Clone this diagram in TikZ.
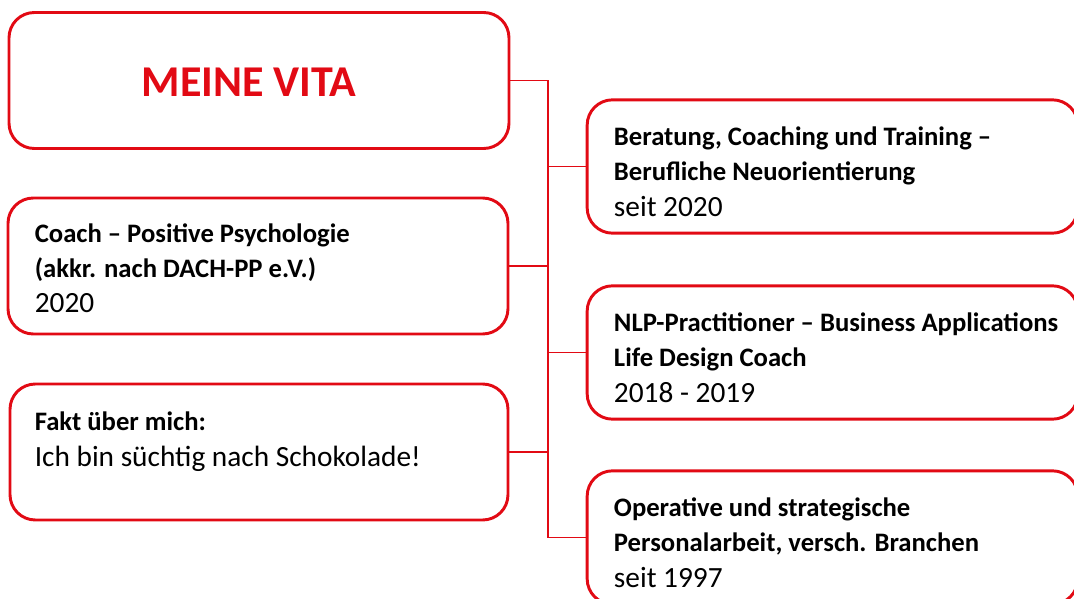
\documentclass[tikz,border=0pt]{standalone}
\usepackage{fontspec}
\setmainfont{Carlito}
\usetikzlibrary{positioning}

\definecolor{vitared}{RGB}{226,10,20}
\newcommand\boldline[1]{{\fontsize{20}{26.5}\selectfont\bfseries #1}}

\tikzset{
  box/.style={draw=vitared, line width=2.2pt, rounded corners=19pt, fill=white},
  leftbox/.style={box, minimum width=375pt, minimum height=102pt},
  rightbox/.style={box, minimum width=368pt, minimum height=100pt},
  txt/.style={align=left, inner sep=0pt, font=\fontsize{22}{26.5}\selectfont},
  headline/.style={text=vitared, inner sep=0pt, font=\fontsize{33}{38}\selectfont\bfseries},
  link/.style={draw=vitared, line width=1.1pt}
}

\begin{document}
\begin{tikzpicture}[x=0.75pt,y=-0.75pt]
\useasboundingbox (0,0) rectangle (1074,599);
\clip (0,0) rectangle (1074,599);

% spine of the connectors
\coordinate (spine) at (548,0);

% left column
\node[leftbox] (vita) at (259,80.5) {};
\node[headline] (vitatitle) at ([xshift=-7.5pt,yshift=-1pt]vita.center) {MEINE VITA};

\node[leftbox] (coach) at (258,266) {};
\node[txt, anchor=north west] (coachtxt) at ([xshift=21pt,yshift=-20pt]coach.north west)
  {\boldline{Coach – Positive Psychologie}\\\boldline{(akkr. nach DACH-PP e.V.)}\\2020};

\node[leftbox, minimum width=373.5pt] (fakt) at (259,452) {};
\node[txt, anchor=north west] (fakttxt) at ([xshift=19.5pt,yshift=-22pt]fakt.north west)
  {\boldline{Fakt über mich:}\\Ich bin süchtig nach Schokolade!};

% right column
\node[rightbox] (beratung) at (832.5,166.5) {};
\node[txt, anchor=north west] (beratungtxt) at ([xshift=21pt,yshift=-21pt]beratung.north west)
  {\boldline{Beratung, Coaching und Training –}\\\boldline{Berufliche Neuorientierung}\\seit 2020};

\node[rightbox] (nlp) at (832.5,352.5) {};
\node[txt, anchor=north west] (nlptxt) at ([xshift=21pt,yshift=-21pt]nlp.north west)
  {\boldline{NLP-Practitioner – Business Applications}\\\boldline{Life Design Coach}\\2018 - 2019};

\node[rightbox] (personal) at (832.5,537.5) {};
\node[txt, anchor=north west] (personaltxt) at ([xshift=21pt,yshift=-21pt]personal.north west)
  {\boldline{Operative und strategische}\\\boldline{Personalarbeit, versch. Branchen}\\seit 1997};

% connectors
\draw[link] (vita.east) -- (vita.east -| spine) -- (spine |- personal.west) -- (personal.west);
\draw[link] (coach.east) -- (coach.east -| spine);
\draw[link] (fakt.east) -- (fakt.east -| spine);
\draw[link] (spine |- beratung.west) -- (beratung.west);
\draw[link] (spine |- nlp.west) -- (nlp.west);

\end{tikzpicture}
\end{document}
